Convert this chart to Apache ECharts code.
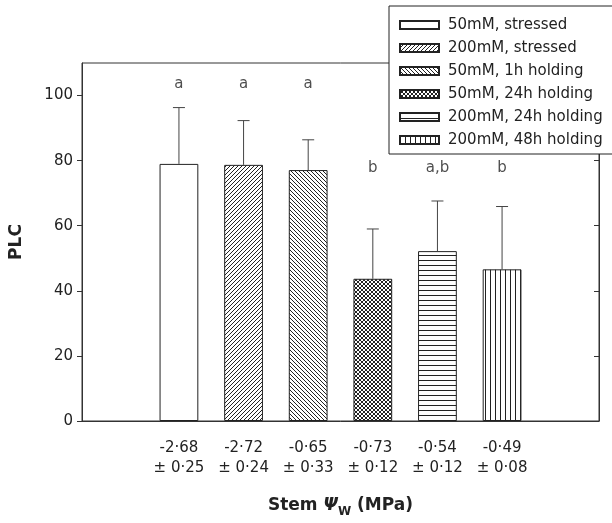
<!DOCTYPE html>
<html>
<head>
<meta charset="utf-8">
<script src="https://cdn.jsdelivr.net/npm/echarts@6/dist/echarts.min.js"></script>
<style>
  html, body { margin: 0; padding: 0; background: #fff; overflow: hidden; }
  #chart { width: 612px; height: 523px; }
</style>
</head>
<body>
<div id="chart"></div>
<script>
// data
const seriesNames = ['50mM, stressed', '200mM, stressed', '50mM, 1h holding',
  '50mM, 24h holding', '200mM, 24h holding', '200mM, 48h holding']
const psiMeans = ['-2·68', '-2·72', '-0·65', '-0·73', '-0·54', '-0·49']
const psiErrors = ['0·25', '0·24', '0·33', '0·12', '0·12', '0·08']
const plcMeans = [79.0, 78.7, 77.1, 43.7, 52.2, 46.6]
const plcErrors = [17.3, 13.6, 9.3, 15.3, 15.4, 19.3]
const sigLetters = ['a', 'a', 'a', 'b', 'a,b', 'b']
const letterLevels = [103.4, 103.4, 103.4, 77.6, 77.6, 77.6]
const yTicks = [0, 20, 40, 60, 80, 100]

const FONT = 'DejaVu Sans'
const INK = '#222'

// x categories: one empty slot on each side
const categories = ['', ...psiMeans.map((m, i) => m + '\n± ' + psiErrors[i]), '']

// hatch tiles
const makeTile = (w, h, draw) => {
  const c = document.createElement('canvas')
  c.width = w
  c.height = h
  const ctx = c.getContext('2d')
  ctx.fillStyle = '#fff'
  ctx.fillRect(0, 0, w, h)
  ctx.strokeStyle = INK
  ctx.fillStyle = INK
  ctx.lineWidth = 1
  draw(ctx, w, h)
  return { image: c, repeat: 'repeat' }
}

const diag = (ctx, s, dir) => {
  for (let k = -1; k <= 1; k++) {
    ctx.beginPath()
    if (dir > 0) {
      ctx.moveTo(k * s, s)
      ctx.lineTo(k * s + s, 0)
    } else {
      ctx.moveTo(k * s, 0)
      ctx.lineTo(k * s + s, s)
    }
    ctx.stroke()
  }
}

const patterns = [
  '#fff',
  makeTile(4, 4, (ctx, w) => diag(ctx, w, 1)),
  makeTile(4, 4, (ctx, w) => diag(ctx, w, -1)),
  makeTile(4, 4, (ctx, w) => { diag(ctx, w, 1); diag(ctx, w, -1) }),
  makeTile(4, 5, (ctx, w) => ctx.fillRect(0, 0, w, 1)),
  makeTile(5, 4, (ctx, w, h) => ctx.fillRect(0, 0, 1, h))
]

const chart = echarts.init(document.getElementById('chart'))

const barSeries = seriesNames.map((name, i) => ({
  name,
  type: 'bar',
  barWidth: '60%',
  barGap: '-100%',
  data: categories.map((_, c) => (c === i + 1 ? plcMeans[i] : '-')),
  itemStyle: {
    color: patterns[i],
    borderColor: INK,
    borderWidth: 1
  },
  silent: true
}))

const errorData = plcMeans.map((m, i) => [i + 1, m, m + plcErrors[i]])

const option = {
  animation: false,
  backgroundColor: '#fff',
  textStyle: { fontFamily: FONT },
  grid: {
    left: 82,
    right: 13,
    top: 63,
    bottom: 97,
    show: true,
    borderColor: '#333',
    borderWidth: 1,
    backgroundColor: 'transparent'
  },
  legend: {
    orient: 'vertical',
    left: 389,
    top: 6,
    backgroundColor: '#fff',
    borderColor: INK,
    borderWidth: 1,
    padding: [11, 10, 6, 10],
    itemWidth: 39,
    itemHeight: 8,
    itemGap: 7,
    icon: 'rect',
    data: seriesNames,
    textStyle: { fontSize: 15, color: INK, fontFamily: FONT, lineHeight: 16, padding: [0, 0, 0, 4] },
    z: 10
  },
  xAxis: {
    type: 'category',
    data: categories,
    axisLine: { lineStyle: { color: '#333' } },
    axisTick: { show: false },
    axisLabel: {
      interval: 0,
      fontSize: 15,
      lineHeight: 20,
      color: INK,
      margin: 17
    },
    name: '{t|Stem }{psi|Ψ}{sub|W}{t| (MPa)}',
    nameLocation: 'middle',
    nameGap: 73,
    nameTextStyle: {
      rich: {
        t: { fontSize: 17, fontWeight: 'bold', color: INK, fontFamily: FONT },
        psi: { fontSize: 17, fontWeight: 'bold', fontStyle: 'italic', color: INK, fontFamily: FONT },
        sub: { fontSize: 12, fontWeight: 'bold', color: INK, fontFamily: FONT, padding: [12, 0, 0, 0] }
      }
    }
  },
  yAxis: [
    {
      type: 'value',
      min: 0,
      max: 110,
      interval: 20,
      splitLine: { show: false },
      axisLine: { show: true, lineStyle: { color: '#333' } },
      axisTick: { show: true, length: 5, customValues: yTicks, lineStyle: { color: '#333' } },
      axisLabel: { fontSize: 15, color: INK, margin: 9, customValues: yTicks },
      name: 'PLC',
      nameLocation: 'middle',
      nameGap: 57,
      nameTextStyle: { fontSize: 17, fontWeight: 'bold', color: INK, fontFamily: FONT }
    },
    {
      type: 'value',
      position: 'right',
      min: 0,
      max: 110,
      interval: 20,
      splitLine: { show: false },
      axisLine: { show: true, lineStyle: { color: '#333' } },
      axisTick: { show: true, inside: true, length: 5, customValues: yTicks, lineStyle: { color: '#333' } },
      axisLabel: { show: false }
    }
  ],
  series: [
    ...barSeries,
    {
      type: 'custom',
      silent: true,
      z: 5,
      data: errorData,
      renderItem: (params, api) => {
        const x = api.value(0)
        const base = api.coord([x, api.value(1)])
        const top = api.coord([x, api.value(2)])
        const style = { stroke: '#444', lineWidth: 1 }
        return {
          type: 'group',
          children: [
            { type: 'line', shape: { x1: base[0], y1: base[1], x2: top[0], y2: top[1] }, style },
            { type: 'line', shape: { x1: top[0] - 6, y1: top[1], x2: top[0] + 6, y2: top[1] }, style }
          ]
        }
      }
    },
    {
      type: 'scatter',
      silent: true,
      symbolSize: 0,
      data: letterLevels.map((v, i) => [i + 1, v]),
      label: {
        show: true,
        position: 'inside',
        fontSize: 15,
        color: INK,
        fontFamily: FONT,
        formatter: p => sigLetters[p.dataIndex]
      }
    }
  ]
}

chart.setOption(option)
</script>
</body>
</html>
